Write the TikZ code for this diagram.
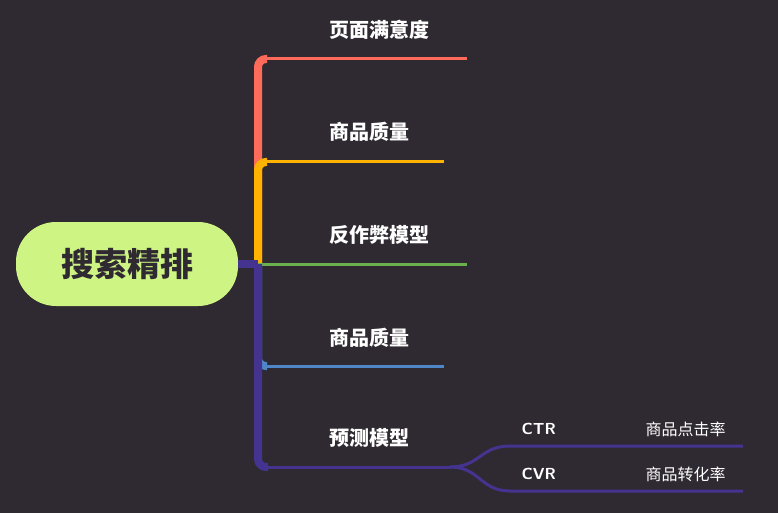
\documentclass[tikz,border=0pt]{standalone}
\usepackage{fontspec}
\newfontfamily\cjk{Noto Sans CJK SC}
\usetikzlibrary{positioning}
\usetikzlibrary{calc}
\definecolor{bg}{HTML}{2F2931}
\definecolor{rootgreen}{HTML}{CEF484}
\definecolor{redb}{HTML}{FF6B5A}
\definecolor{orangeb}{HTML}{FFB300}
\definecolor{greenb}{HTML}{6AB04C}
\definecolor{blueb}{HTML}{4E86C8}
\definecolor{purpleb}{HTML}{44348F}
\begin{document}
\begin{tikzpicture}
    [%%%%%%%%%%%%%%%%%%%%%%%%%%%%%%
        x=1pt,y=-1pt,
        root/.style={rectangle,rounded corners=40pt,fill=rootgreen,minimum width=222pt,minimum height=84pt,font=\cjk\bfseries\fontsize{33}{33}\selectfont,text=bg},
        topic/.style={anchor=west,font=\cjk\bfseries\fontsize{20}{20}\selectfont,text=white},
        sub/.style={anchor=west,font=\cjk\fontsize{16}{16}\selectfont,text=white},
        trunk/.style={line width=8pt,rounded corners=8pt},
        leaf/.style={line width=3pt}
    ]%%%%%%%%%%%%%%%%%%%%%%%%%%%%%%
\fill[bg] (0,0) rectangle (778,513);
\node[root] (root) at (127,264){搜索精排};

\coordinate (hub) at (258,264);
\coordinate (r) at (467,59);
\coordinate (o) at (444,162);
\coordinate (g) at (467,264);
\coordinate (b) at (444,366);
\coordinate (p) at (450,467);
\coordinate (ctr) at (743,446);
\coordinate (cvr) at (743,491);

% branches
\draw[trunk,redb] (hub) |- ($(r)+(-200,0)$);
\draw[leaf,redb] ($(r)+(-205,0)$) -- (r);
\draw[trunk,orangeb] (hub) |- ($(o)+(-177,0)$);
\draw[leaf,orangeb] ($(o)+(-182,0)$) -- (o);
\draw[leaf,greenb] (hub) -- (g);
\draw[trunk,blueb] (hub) |- ($(b)+(-177,0)$);
\draw[leaf,blueb] ($(b)+(-182,0)$) -- (b);
\draw[trunk,purpleb] (hub) |- ($(p)+(-182,0)$);
\draw[leaf,purpleb] ($(p)+(-188,0)$) -- (p);
\draw[line width=8pt,purpleb] (root.east) -- (hub);
\draw[leaf,purpleb] (p) .. controls (480,467) and (480,446) .. (510,446) -- (ctr);
\draw[leaf,purpleb] (p) .. controls (480,467) and (480,491) .. (510,491) -- (cvr);

% labels
\node[topic] (t1) at (326,30){页面满意度};
\node[topic] (t2) at (326,132){商品质量};
\node[topic] (t3) at (326,235){反作弊模型};
\node[topic] (t4) at (326,338){商品质量};
\node[topic] (t5) at (326,438){预测模型};
\node[sub,font=\sffamily\bfseries\fontsize{16}{16}\selectfont] (s1) at (518,429){CTR};
\node[sub] (s2) at (642,429){商品点击率};
\node[sub,font=\sffamily\bfseries\fontsize{16}{16}\selectfont] (s3) at (518,474){CVR};
\node[sub] (s4) at (642,474){商品转化率};
\end{tikzpicture}
\end{document}
